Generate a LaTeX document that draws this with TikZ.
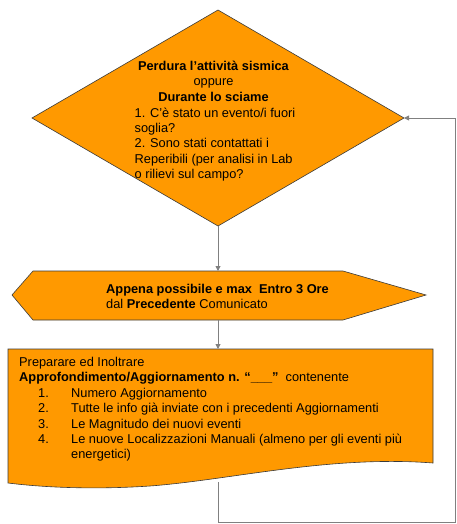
\documentclass[tikz,border=0pt]{standalone}
\usepackage{fontspec}
\setmainfont{Liberation Sans}
\usetikzlibrary{arrows.meta,positioning}
\definecolor{flowfill}{HTML}{FF9900}
\definecolor{flowline}{HTML}{3A3A3A}
\definecolor{linkgray}{HTML}{808080}
\tikzset{
  block/.style={fill=flowfill,draw=flowline,line width=0.6pt,line join=miter},
  link/.style={draw=linkgray,line width=0.9pt,-{Triangle[length=5pt,width=5pt]}},
  txt/.style={inner sep=0pt,align=left,font=\fontsize{12.8}{15.4}\selectfont},
}

\begin{document}
\begin{tikzpicture}[x=1pt,y=-1pt]
\useasboundingbox (0,0) rectangle (457,524);
% ---- decision: activity still going on ----
\coordinate (qtop) at (218,10);
\coordinate (qleft) at (32,118);
\coordinate (qright) at (404,118);
\coordinate (qbot) at (218,226);
\draw[block] (qtop) -- (qright) -- (qbot) -- (qleft) -- cycle;
\node[txt,align=center,anchor=north] (qhead) at (213.5,61)
  {\textbf{Perdura l’attività sismica}\\ oppure\\ \textbf{Durante lo sciame}};
\node[txt,anchor=north west] (qlist) at (134.5,107.5)
  {1. C’è stato un evento/i fuori\\ soglia?\\ 2. Sono stati contattati i\\
   Reperibili (per analisi in Lab\\ o rilievi sul campo?};
% ---- timing (hexagon) ----
\coordinate (hleft) at (12,295);
\coordinate (htl) at (33,271);
\coordinate (htr) at (343,271);
\coordinate (hright) at (426,295);
\coordinate (hbr) at (343,320);
\coordinate (hbl) at (33,320);
\coordinate (htop) at (218,271);
\coordinate (hbot) at (218,320);
\draw[block] (hleft) -- (htl) -- (htr) -- (hright) -- (hbr) -- (hbl) -- cycle;
\node[txt,anchor=north west] (htext) at (106,284)
  {\textbf{Appena possibile e max\ \ Entro 3 Ore}\\ dal \textbf{Precedente} Comunicato};
% ---- document: update to send ----
\coordinate (dtl) at (8,349);
\coordinate (dtr) at (433,349);
\coordinate (dbr) at (433,463);
\coordinate (dbl) at (8,483);
\coordinate (dtop) at (218,349);
\coordinate (dbot) at (218,482);
\draw[block] (dbl) -- (dtl) -- (dtr) -- (dbr)
  .. controls (330,455) and (230,480) .. (150,486)
  .. controls (90,490) and (40,487) .. (dbl) -- cycle;
\node[txt,anchor=north west] (dtext) at (19,357)
  {Preparare ed Inoltrare\\
   \textbf{Approfondimento/Aggiornamento n. “\_\_\_”}\ \ contenente\\
   \hspace*{19pt}\makebox[33pt][l]{1.}Numero Aggiornamento\\
   \hspace*{19pt}\makebox[33pt][l]{2.}Tutte le info già inviate con i precedenti Aggiornamenti\\
   \hspace*{19pt}\makebox[33pt][l]{3.}Le Magnitudo dei nuovi eventi\\
   \hspace*{19pt}\makebox[33pt][l]{4.}Le nuove Localizzazioni Manuali (almeno per gli eventi più\\
   \hspace*{52pt}energetici)};
% ---- connectors ----
\coordinate (loopa) at (218,522);
\coordinate (loopb) at (455,522);
\coordinate (loopc) at (455,118);
\draw[link] (qbot) -- (htop);
\draw[link] (hbot) -- (dtop);
\draw[link] (dbot) -- (loopa) -- (loopb) -- (loopc) -- (qright);
\end{tikzpicture}
\end{document}
